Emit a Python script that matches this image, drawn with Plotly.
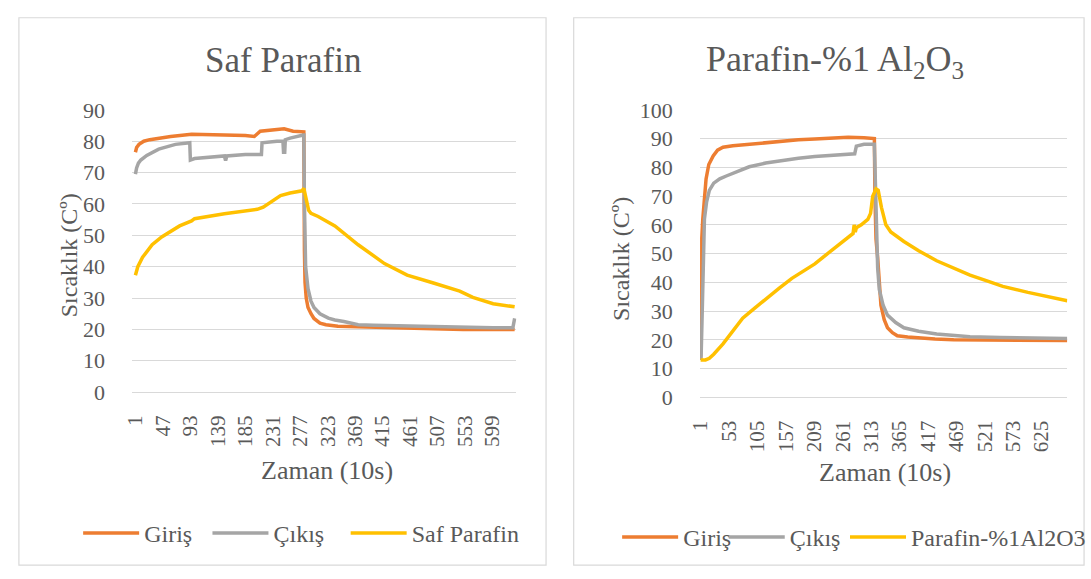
import plotly.graph_objects as go

W, H = 1091, 579

# ---------------- Left chart: Saf Parafin ----------------
L_TICKS = [1, 47, 93, 139, 185, 231, 277, 323, 369, 415, 461, 507, 553, 599]

L_GIRIS_X = [1, 3, 7, 15, 25, 40, 60, 95, 120, 150, 185, 200, 210, 230, 250, 265, 283,
             284, 285, 287, 290, 295, 300, 310, 320, 340, 400, 450, 500, 550, 600, 636]
L_GIRIS_Y = [76.5, 78, 79, 80, 80.5, 81, 81.5, 82.2, 82, 82, 81.8, 81.5, 83.2, 83.5, 84, 83.2, 83,
             45, 35, 30, 27, 25, 23.5, 22, 21.5, 21, 20.6, 20.4, 20.2, 20, 20, 20]

L_CIKIS_X = [1, 3, 6, 10, 20, 40, 68, 92, 93, 100, 150, 152, 154, 185, 212, 213, 238, 248, 249,
             251, 252, 260, 282, 283,
             284, 286, 290, 295, 300, 310, 324, 335, 350, 374, 400, 456, 500, 550, 600, 633, 635, 636]
L_CIKIS_Y = [69.5, 71.5, 73, 74, 75.5, 77.5, 79, 79.5, 74, 74.5, 75.3, 73.8, 75.3, 75.8, 75.8, 79.5, 80, 80, 76.5,
             76.5, 80.5, 81, 82, 82,
             60, 40, 33, 29, 27, 25, 23.6, 23, 22.5, 21.5, 21.3, 21, 20.8, 20.6, 20.5, 20.5, 22.5, 23.5]

L_PCM_X = [1, 5, 13, 29, 45, 57, 75, 95, 100, 150, 205, 215, 228, 244, 260, 280, 283, 287, 291, 295,
           307, 335, 374, 418, 456, 500, 544, 566, 600, 636]
L_PCM_Y = [37.3, 40, 43, 47, 49.5, 51, 53, 54.6, 55.3, 56.9, 58.3, 59, 60.7, 62.7, 63.5, 64.2, 65, 61, 58, 57,
           56, 53, 47, 41, 37.3, 34.8, 32.2, 30.2, 28.2, 27.2]

# ---------------- Right chart: Parafin-%1 Al2O3 ----------------
R_TICKS = [1, 53, 105, 157, 209, 261, 313, 365, 417, 469, 521, 573, 625]

R_GIRIS_X = [1, 2, 3, 5, 8, 11, 16, 24, 32, 42, 60, 90, 120, 150, 180, 210, 240, 271, 300, 319,
             320, 322, 325, 328, 331, 337, 343, 352, 361, 380, 403, 430, 464, 500, 550, 600, 650, 672]
R_GIRIS_Y = [13, 45, 55, 62, 70, 76, 81, 84, 86, 87, 87.5, 88, 88.7, 89.3, 89.6, 89.9, 90.2, 90.5, 90.3, 90,
             70, 55, 48.6, 38, 32, 27, 24.2, 22.5, 21.4, 21, 20.6, 20.3, 20, 20, 19.8, 19.8, 19.8, 19.8]

R_CIKIS_X = [1, 2, 4, 6, 8, 12, 17, 25, 36, 48, 60, 90, 120, 150, 180, 210, 250, 283, 286, 300, 319,
             320, 322, 325, 328, 335, 343, 358, 373, 400, 433, 494, 550, 600, 656, 672]
R_CIKIS_Y = [13, 14.5, 30, 50, 62, 68, 72, 74.5, 76, 77, 78, 80.2, 81.5, 82.5, 83.2, 83.8, 84.3, 84.7, 87.4, 88, 88,
             80, 60, 45, 37.5, 32, 28.6, 26, 24.2, 23, 22, 21.1, 20.8, 20.6, 20.5, 20.5]

R_PCM_X = [1, 10, 17, 25, 42, 60, 78, 100, 120, 145, 168, 190, 210, 230, 253, 270, 280, 282, 284, 286,
           295, 307, 312, 316, 322, 326, 332, 340, 349, 373, 400, 433, 464, 494, 525, 554, 600, 630, 656, 672]
R_PCM_Y = [13, 13, 13.6, 15, 18.6, 23, 27.5, 31, 34.2, 38, 41.4, 44, 46.4, 49.5, 53.1, 55.5, 57, 60, 57.5, 59,
           60, 61.9, 64, 70, 72.5, 72, 66, 60, 57.5, 54.2, 51, 47.5, 45, 42.5, 40.5, 38.6, 36.5, 35.2, 34.2, 33.6]

ORANGE, GRAY, YELLOW = "#ED7D31", "#A5A5A5", "#FFC000"
TXT = "#595959"
GRID = "#D9D9D9"
FONT = "Liberation Serif"
LW = 3.5


def px(v):
    return v / W


def py(v):
    return 1 - v / H


def fnt(size):
    return dict(family=FONT, size=size, color=TXT)


# legend positions (left edge of each legend item, px) and vertical centre
LEG_POS = {"legend": (67, 545), "legend2": (198, 545), "legend3": (338, 545),
           "legend4": (613, 549), "legend5": (721, 549), "legend6": (844, 549)}

fig = go.Figure()
series = [
    (L_GIRIS_X, L_GIRIS_Y, "Giriş", ORANGE, "x", "y", "legend"),
    (L_CIKIS_X, L_CIKIS_Y, "Çıkış", GRAY, "x", "y", "legend2"),
    (L_PCM_X, L_PCM_Y, "Saf Parafin", YELLOW, "x", "y", "legend3"),
    (R_GIRIS_X, R_GIRIS_Y, "Giriş", ORANGE, "x2", "y2", "legend4"),
    (R_CIKIS_X, R_CIKIS_Y, "Çıkış", GRAY, "x2", "y2", "legend5"),
    (R_PCM_X, R_PCM_Y, "Parafin-%1Al2O3", YELLOW, "x2", "y2", "legend6"),
]
for xs, ys, name, col, xa, ya, lg in series:
    fig.add_trace(go.Scatter(x=xs, y=ys, mode="lines", name=name,
                             line=dict(color=col, width=LW),
                             xaxis=xa, yaxis=ya, legend=lg))


def xax(domain, rng, ticks, anchor):
    return dict(domain=domain, range=rng, tickmode="array", tickvals=ticks,
                ticktext=[str(t) for t in ticks], anchor=anchor,
                tickangle=-90, ticks="outside", ticklen=14, tickcolor="rgba(0,0,0,0)",
                showgrid=False, zeroline=False, showline=False, tickfont=fnt(21))


def yax(domain, rng, anchor):
    return dict(domain=domain, range=rng, anchor=anchor, dtick=10, tick0=0,
                ticks="outside", ticklen=22, tickcolor="rgba(0,0,0,0)",
                showgrid=True, gridcolor=GRID, gridwidth=1, zeroline=True,
                zerolinecolor=GRID, zerolinewidth=1, showline=False, tickfont=fnt(22))


layout = dict(
    width=W, height=H, margin=dict(l=0, r=0, t=0, b=0),
    paper_bgcolor="white", plot_bgcolor="white",
    xaxis=xax([px(122), px(511)], [-4, 639], L_TICKS, "y"),
    yaxis=yax([py(397.3), py(102.3)], [0, 90], "x"),
    xaxis2=xax([px(697), px(1069)], [0, 672], R_TICKS, "y2"),
    yaxis2=yax([py(402.7), py(102.3)], [0, 100], "x2"),
    showlegend=True,
)
for lg, (lx, ly) in LEG_POS.items():
    layout[lg] = dict(orientation="h", x=px(lx), xanchor="left", y=py(ly), yanchor="middle",
                      font=fnt(24), bgcolor="rgba(0,0,0,0)", itemwidth=56)

ann = [
    dict(text="Saf Parafin", x=px(275), y=py(51), font=fnt(35)),
    dict(text="Parafin-%1 Al<sub>2</sub>O<sub>3</sub>", x=px(834), y=py(52), font=fnt(36)),
    dict(text="Zaman (10s)", x=px(319), y=py(479), font=fnt(26)),
    dict(text="Zaman (10s)", x=px(884), y=py(481), font=fnt(26)),
    dict(text="Sıcaklık (Cº)", x=px(58), y=py(254), font=fnt(24), textangle=-90),
    dict(text="Sıcaklık (Cº)", x=px(617), y=py(258), font=fnt(24), textangle=-90),
]
for a in ann:
    a.update(xref="paper", yref="paper", showarrow=False, xanchor="center", yanchor="middle")
layout["annotations"] = ann

layout["shapes"] = [
    dict(type="rect", xref="paper", yref="paper", x0=px(7), x1=px(541), y0=py(578), y1=py(6),
         line=dict(color=GRID, width=1.2), layer="below"),
    dict(type="rect", xref="paper", yref="paper", x0=px(569), x1=px(1086), y0=py(578), y1=py(6),
         line=dict(color=GRID, width=1.2), layer="below"),
]
fig.update_layout(**layout)

fig.write_html("out.html")
